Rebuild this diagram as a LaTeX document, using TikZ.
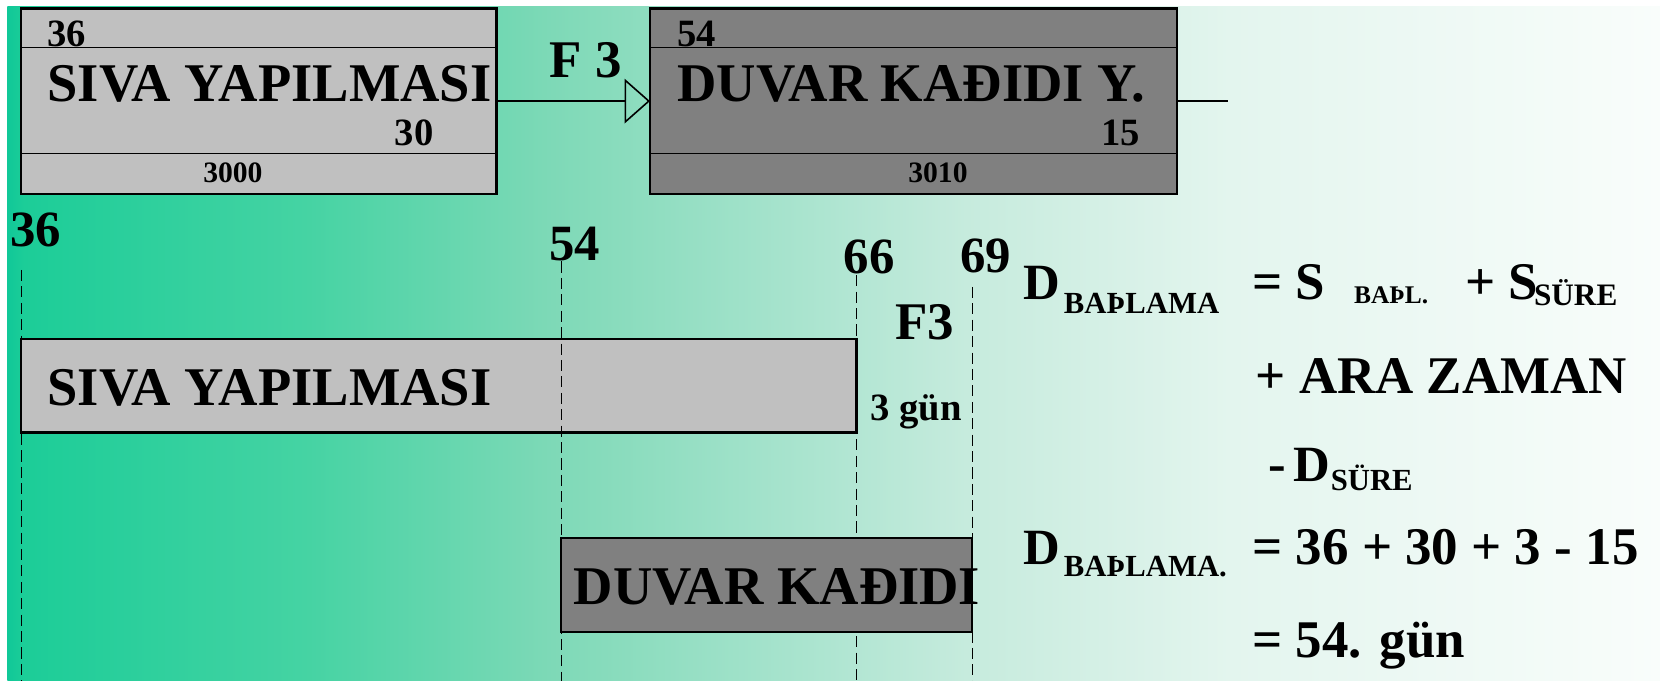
\documentclass[tikz,border=0pt]{standalone}
\usepackage{fontspec}
\setmainfont{Liberation Serif}
\usetikzlibrary{arrows.meta}
\definecolor{g0}{RGB}{16,200,152}
\definecolor{g1}{RGB}{28,205,152}
\definecolor{g2}{RGB}{69,211,163}
\definecolor{g3}{RGB}{126,217,183}
\definecolor{g4}{RGB}{178,230,211}
\definecolor{g5}{RGB}{198,235,221}
\definecolor{g6}{RGB}{227,245,238}
\definecolor{g7}{RGB}{249,253,251}
\definecolor{boxlight}{RGB}{192,192,192}
\definecolor{boxdark}{RGB}{128,128,128}
\pgfdeclarehorizontalshading{bgshade}{100bp}{color(0bp)=(g0); color(25bp)=(g0); color(25.5bp)=(g1); color(34bp)=(g2); color(41.5bp)=(g3); color(50.5bp)=(g4); color(54bp)=(g5); color(62bp)=(g6); color(75bp)=(g7); color(100bp)=(g7)}
\newcommand\ftask{\fontsize{51.5}{56}\selectfont\bfseries}
\newcommand\fbig{\fontsize{50}{56}\selectfont\bfseries}
\newcommand\fD{\fontsize{48}{54}\selectfont\bfseries}
\newcommand\fnum{\fontsize{48}{54}\selectfont\bfseries}
\newcommand\fmid{\fontsize{36.5}{40}\selectfont\bfseries}
\newcommand\fsmall{\fontsize{28}{30}\selectfont\bfseries}
\newcommand\fsub{\fontsize{29}{32}\selectfont\bfseries}
\newcommand\fsubm{\fontsize{29.5}{32}\selectfont\bfseries}
\newcommand\fsubs{\fontsize{24}{28}\selectfont\bfseries}
\tikzset{
  txt/.style={inner sep=0pt, outer sep=0pt, anchor=base west, text=black},
  ctxt/.style={inner sep=0pt, outer sep=0pt, anchor=base, text=black},
  topbox/.style={draw=black, line width=2pt, inner sep=0pt, outer sep=0pt, anchor=north west, minimum height=175pt},
  bar/.style={draw=black, line width=2pt, inner sep=0pt, outer sep=0pt, anchor=north west},
  sep/.style={line width=1.6pt},
  conn/.style={line width=1.5pt},
  dashline/.style={line width=0.9pt, dash pattern=on 10.5pt off 5pt}
}
\begin{document}
\begin{tikzpicture}[x=1pt, y=-1pt]
\useasboundingbox (0,0) rectangle (1568,643);
\fill[white] (0,0) rectangle (1568,643);
\shade[shading=bgshade] (7,5.7) rectangle (1568,643);

% ---- top network boxes
\node[topbox, fill=boxlight, minimum width=449pt] (b1) at (20,8) {};
\draw[sep] (20,45) -- (469,45);
\draw[sep] (20,145) -- (469,145);
\node[txt, font=\fmid] (b1es) at (45,44) {36};
\node[txt, font=\ftask] (b1name) at (45,96) {SIVA YAPILMASI};
\node[txt, font=\fmid] (b1dur) at (373,137) {30};
\node[ctxt, font=\fsmall] (b1id) at (220,172) {3000};

\node[topbox, fill=boxdark, minimum width=498pt] (b2) at (614,8) {};
\draw[sep] (614,45) -- (1112,45);
\draw[sep] (614,145) -- (1112,145);
\node[txt, font=\fmid] (b2es) at (640,44) {54};
\node[txt, font=\ftask] (b2name) at (640,96) {DUVAR KAĐIDI Y.};
\node[txt, font=\fmid] (b2dur) at (1040,137) {15};
\node[ctxt, font=\fsmall] (b2id) at (886,172) {3010};

\draw[conn, -{Triangle[open, length=24pt, width=42pt]}] (b1.east) -- (b2.west);
\node[txt, font=\fbig] (lagtop) at (519,73) {F 3};
\path (b2.east) ++(48,0) coordinate (b2end);
\draw[conn] (b2.east) -- (b2end);

% ---- time scale labels
\node[txt, font=\fnum] (t36) at (10,233) {36};
\node[txt, font=\fnum] (t54) at (519,246) {54};
\node[txt, font=\fnum] (t66) at (797,258) {66};
\node[txt, font=\fnum] (t69) at (907,257) {69};
\node[txt, font=\fbig] (lag) at (846,321) {F3};
\node[txt, font=\fmid] (lagd) at (822,397) {3 gün};

% ---- bar 1
\node[bar, fill=boxlight, minimum width=789pt, minimum height=88pt] (bar1) at (20,320.5) {};
\node[txt, font=\ftask] (bar1t) at (45,383) {SIVA YAPILMASI};

% ---- dashed time lines
\coordinate (d1a) at (20,255);  \coordinate (d1b) at (20,643);
\coordinate (d2a) at (530,247); \coordinate (d2b) at (530,643);
\coordinate (d3a) at (809,260); \coordinate (d3b) at (809,643);
\coordinate (d4a) at (918.5,271); \coordinate (d4b) at (918.5,643);
\draw[dashline] (d1a) -- (d1b);
\draw[dashline] (d2a) -- (d2b);
\draw[dashline] (d3a) -- (d3b);
\draw[dashline] (d4a) -- (d4b);

% ---- bar 2
\node[bar, fill=boxdark, minimum width=388.5pt, minimum height=89pt] (bar2) at (530,508) {};
\node[txt, font=\ftask] (bar2t) at (542,571) {DUVAR KAĐIDI};

% ---- formula
\node[txt, font=\fD] (f1D) at (967,283) {D};
\node[txt, font=\fsub] (f1Ds) at (1005,296) {BAÞLAMA};
\node[txt, font=\fbig] (f1a) at (1183,283) {= S};
\node[txt, font=\fsubs] (f1b) at (1279,287) {BAÞL.};
\node[txt, font=\fbig] (f1c) at (1384,283) {+ S};
\node[txt, font=\fsubm] (f1d) at (1449,289) {SÜRE};

\node[txt, font=\fbig] (f2) at (1186,372) {+ ARA ZAMAN};

\node[txt, font=\fbig] (f3a) at (1198,455) {-};
\node[txt, font=\fD] (f3D) at (1222,455) {D};
\node[txt, font=\fsub] (f3s) at (1257,463) {SÜRE};

\node[txt, font=\fD] (f4D) at (967,533) {D};
\node[txt, font=\fsub] (f4Ds) at (1005,545) {BAÞLAMA.};
\node[txt, font=\fbig] (f4) at (1183,533) {= 36 + 30 + 3 - 15};

\node[txt, font=\fbig] (f5) at (1183,621) {= 54. gün};
\end{tikzpicture}
\end{document}
